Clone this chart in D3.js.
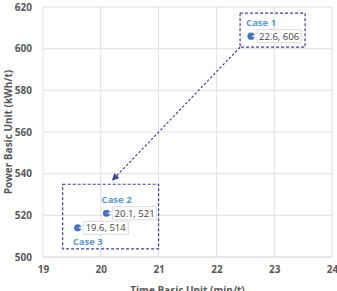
<!DOCTYPE html>
<html>
<head>
<meta charset="utf-8">
<script src="https://cdn.jsdelivr.net/npm/d3@7"></script>
<style>
  body { margin: 0; background: #fff; }
  text { font-family: "Open Sans", "Noto Sans", sans-serif; }
</style>
</head>
<body>
<svg id="chart" width="337" height="291"></svg>
<script>
// data
const caseNames = ["Case 1", "Case 2", "Case 3"];
const timeUnit = [22.6, 20.1, 19.6];
const powerUnit = [606, 521, 514];
const xTicks = [19, 20, 21, 22, 23, 24];
const yTicks = [500, 520, 540, 560, 580, 600, 620];

var svg = d3.select("#chart"),
    margin = {top: 7, right: 5, bottom: 34, left: 43},
    width = svg.attr("width") - margin.left - margin.right,
    height = svg.attr("height") - margin.top - margin.bottom;

var x = d3.scaleLinear().domain([19, 24]).range([0, width]);
var y = d3.scaleLinear().domain([500, 620]).range([height, 0]);

var g = svg.append("g")
    .attr("transform", "translate(" + margin.left + "," + margin.top + ")");

// gridlines
g.append("g").selectAll("line").data(xTicks).enter().append("line")
    .attr("x1", d => x(d)).attr("x2", d => x(d))
    .attr("y1", 0).attr("y2", height)
    .attr("stroke", "#e0e0e0").attr("stroke-width", 1);
g.append("g").selectAll("line").data(yTicks).enter().append("line")
    .attr("x1", 0).attr("x2", width)
    .attr("y1", d => y(d)).attr("y2", d => y(d))
    .attr("stroke", d => d === 500 ? "#d0d0d0" : "#e0e0e0").attr("stroke-width", 1);

// axes (labels only)
var xAxis = g.append("g")
    .attr("transform", "translate(0," + height + ")")
    .call(d3.axisBottom(x).tickValues(xTicks).tickSize(0).tickPadding(9).tickFormat(d3.format("d")));
var yAxis = g.append("g")
    .call(d3.axisLeft(y).tickValues(yTicks).tickSize(0).tickPadding(11).tickFormat(d3.format("d")));
[xAxis, yAxis].forEach(a => {
  a.select(".domain").remove();
  a.selectAll("text")
    .attr("fill", "#595959")
    .style("font-size", "10px")
    .style("font-weight", "bold")
    .style("font-family", "'Open Sans', sans-serif");
});

svg.append("text")
    .attr("x", margin.left + width / 2)
    .attr("y", 294)
    .attr("text-anchor", "middle")
    .attr("fill", "#595959")
    .style("font-size", "10px")
    .style("font-weight", "bold")
    .text("Time Basic Unit (min/t)");

svg.append("text")
    .attr("transform", "translate(12," + (margin.top + height / 2) + ") rotate(-90)")
    .attr("text-anchor", "middle")
    .attr("fill", "#595959")
    .style("font-size", "10px")
    .style("font-weight", "bold")
    .text("Power Basic Unit (kWh/t)");

var pts = caseNames.map((c, i) => ({name: c, t: timeUnit[i], p: powerUnit[i]}));

// dashed group boxes
var boxColor = "#3f3f9f";
function groupBox(items, padL, padR, padT, padB) {
  var x0 = d3.min(items, d => x(d.t)) - padL,
      x1 = d3.max(items, d => x(d.t)) + padR,
      y0 = d3.min(items, d => y(d.p)) - padT,
      y1 = d3.max(items, d => y(d.p)) + padB;
  g.append("rect")
      .attr("x", x0).attr("y", y0)
      .attr("width", x1 - x0).attr("height", y1 - y0)
      .attr("fill", "none")
      .attr("stroke", boxColor)
      .attr("stroke-width", 1.2)
      .attr("stroke-dasharray", "3,2");
  return {x0, x1, y0, y1};
}
var b1 = groupBox([pts[0]], 11, 54, 23, 11);
var b2 = groupBox([pts[1], pts[2]], 15, 52, 29, 21);

// arrow from case 1 box to case 2/3 box
svg.append("defs").append("marker")
    .attr("id", "arrow")
    .attr("viewBox", "0 0 10 10")
    .attr("refX", 9).attr("refY", 5)
    .attr("markerWidth", 6).attr("markerHeight", 6)
    .attr("orient", "auto")
  .append("path")
    .attr("d", "M0,0L10,5L0,10Z")
    .attr("fill", boxColor);
g.append("line")
    .attr("x1", b1.x0).attr("y1", b1.y1)
    .attr("x2", x(20.2)).attr("y2", b2.y0 - 4)
    .attr("stroke", boxColor)
    .attr("stroke-width", 1.2)
    .attr("stroke-dasharray", "2.5,2")
    .attr("marker-end", "url(#arrow)");

// points
var blue = "#4472c4";
g.selectAll(".pt").data(pts).enter().append("circle")
    .attr("class", "pt")
    .attr("cx", d => x(d.t)).attr("cy", d => y(d.p))
    .attr("r", 3.6)
    .attr("fill", blue);

// data callouts
var fmt = d => d3.format(".1f")(d.t) + ", " + d.p;
pts.forEach(d => {
  var px = x(d.t), py = y(d.p);
  var lbl = g.append("g");
  var t = lbl.append("text")
      .attr("x", px + 8)
      .attr("y", py + 3.5)
      .attr("fill", "#404040")
      .style("font-size", "9.5px")
      .text(fmt(d));
  var bb = t.node().getBBox();
  var lx = bb.x - 2, rx = bb.x + bb.width + 2, ty = py - 6.5, by = py + 6.5;
  lbl.insert("path", "text")
      .attr("d", "M" + lx + "," + ty + "L" + rx + "," + ty + "L" + rx + "," + by +
                 "L" + lx + "," + by + "L" + lx + "," + (py + 2) + "L" + (px + 1) + "," + py +
                 "L" + lx + "," + (py - 2) + "Z")
      .attr("fill", "#fff")
      .attr("stroke", "#d0d0d0")
      .attr("stroke-width", 0.8);
});

// case names
var nameOffsets = [[-5, -10], [-5, -10], [-5, 17]];
g.selectAll(".case").data(pts).enter().append("text")
    .attr("class", "case")
    .attr("x", (d, i) => x(d.t) + nameOffsets[i][0])
    .attr("y", (d, i) => y(d.p) + nameOffsets[i][1])
    .attr("fill", "#5b9bd5")
    .style("font-size", "9.5px")
    .style("font-weight", "bold")
    .text(d => d.name);
</script>
</body>
</html>
